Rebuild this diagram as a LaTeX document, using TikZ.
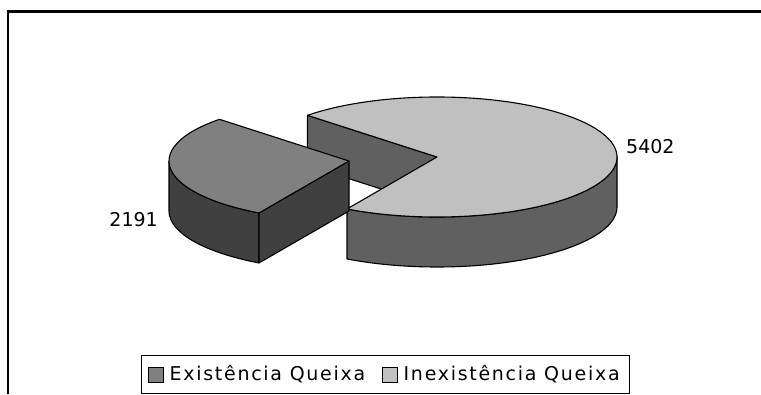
\documentclass[tikz,border=0pt]{standalone}
\usepackage{fontspec}
\setmainfont{DejaVu Sans}
\newfontfamily\legfont[LetterSpace=9]{DejaVu Sans}
\usepackage{xcolor}
\usetikzlibrary{calc, positioning}

\definecolor{bigtop}{HTML}{C0C0C0}
\definecolor{bigside}{HTML}{606060}
\definecolor{smalltop}{HTML}{808080}
\definecolor{smallside}{HTML}{404040}

\begin{document}
\begin{tikzpicture}[x=1pt, y=1pt,
        face/.style={draw=black, line width=1.1pt, line join=round},
        value/.style={inner sep=0pt, font=\fontsize{19}{23}\selectfont},
        marker/.style={draw=black, line width=1pt, minimum size=15pt, inner sep=0pt},
        legtext/.style={inner sep=0pt, font=\fontsize{19}{23}\selectfont\legfont}]

        \useasboundingbox (0,0) rectangle (761,394);

        % frame of the chart
        \draw[line width=2.4pt] (8,0) -- (8,382.5) -- (761,382.5);

        \coordinate (cbig) at (437,237);
        \coordinate (csmall) at (349,233);

        % Inexistencia Queixa
        \filldraw[face, fill=bigside] (cbig) -- ($(cbig)+(136:180pt and 60pt)$) -- ++(0,-50)
                -- ($(cbig)+(0,-50)$) -- cycle;
        \filldraw[face, fill=bigside] ($(cbig)+(240:180pt and 60pt)$)
                arc[start angle=240, end angle=360, x radius=180pt, y radius=60pt] -- ++(0,-50)
                arc[start angle=360, end angle=240, x radius=180pt, y radius=60pt] -- cycle;
        \filldraw[face, fill=bigtop] (cbig) -- ($(cbig)+(240:180pt and 60pt)$)
                arc[start angle=240, end angle=496, x radius=180pt, y radius=60pt] -- cycle;

        % Existencia Queixa
        \filldraw[face, fill=smallside] ($(csmall)+(180:180pt and 60pt)$)
                arc[start angle=180, end angle=240, x radius=180pt, y radius=60pt] -- ++(0,-50)
                arc[start angle=240, end angle=180, x radius=180pt, y radius=60pt] -- cycle;
        \filldraw[face, fill=smallside] (csmall) -- ($(csmall)+(240:180pt and 60pt)$) -- ++(0,-50)
                -- ($(csmall)+(0,-50)$) -- cycle;
        \filldraw[face, fill=smalltop] (csmall) -- ($(csmall)+(136:180pt and 60pt)$)
                arc[start angle=136, end angle=240, x radius=180pt, y radius=60pt] -- cycle;

        \node[value, anchor=east] (v_small) at (158,174) {2191};
        \node[value, anchor=west] (v_big) at (626,247) {5402};

        % legend
        \draw[line width=1pt] (141,1) rectangle (629,39);
        \node[marker, fill=smalltop] (mk_1) at (155.5,19.5) {};
        \node[legtext, anchor=west, right=6pt of mk_1] (lb_1) {Existência Queixa};
        \node[marker, fill=bigtop] (mk_2) at (389.5,19.5) {};
        \node[legtext, anchor=west, right=6pt of mk_2] (lb_2) {Inexistência Queixa};
    \end{tikzpicture}
\end{document}
